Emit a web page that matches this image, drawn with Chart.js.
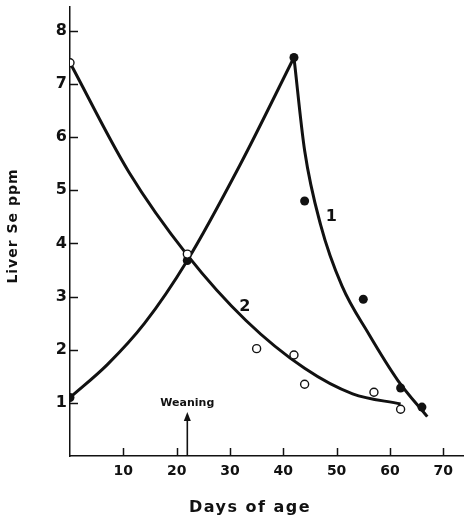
<!DOCTYPE html>
<html>
<head>
<meta charset="utf-8">
<script src="https://cdn.jsdelivr.net/npm/chart.js@4/dist/chart.umd.min.js"></script>
<style>
  html, body { margin: 0; padding: 0; background: #fff; }
  #wrap { width: 464px; height: 517px; }
</style>
</head>
<body>
<div id="wrap"><canvas id="c" width="464" height="517"></canvas></div>
<script>
// ---- Data ----
// Measured points, series 1 (filled circles)
const days1 = [0, 22, 42, 44, 55, 62, 66];
const se1   = [1.1, 3.68, 7.5, 4.8, 2.95, 1.28, 0.92];
// Measured points, series 2 (open circles)
const days2 = [0, 22, 35, 42, 44, 57, 62];
const se2   = [7.4, 3.8, 2.02, 1.9, 1.35, 1.2, 0.88];
// Hand-drawn curve 1, rising branch
const curve1UpDays = [0, 7, 14, 22, 32, 42];
const curve1UpSe   = [1.1, 1.72, 2.5, 3.68, 5.5, 7.5];
// Hand-drawn curve 1, falling branch
const curve1DownDays = [42, 44, 47, 51, 56, 61.5, 67];
const curve1DownSe   = [7.5, 5.75, 4.35, 3.2, 2.3, 1.42, 0.74];
// Hand-drawn curve 2
const curve2Days = [0, 11, 22, 33, 44, 53, 62];
const curve2Se   = [7.4, 5.35, 3.78, 2.55, 1.65, 1.17, 0.98];
// Axis ticks
const xTicks = [10, 20, 30, 40, 50, 60, 70];
const yTicks = [1, 2, 3, 4, 5, 6, 7, 8];
// Annotations
const weaningDay = 22;
const weaningArrowTop = 0.83;
const weaningLabelY = 1.0;
const curveLabels = [
  { text: '1', day: 49, se: 4.51 },
  { text: '2', day: 32.8, se: 2.81 }
];
const xTitle = 'Days of age';
const yTitle = 'Liver Se ppm';

const FONT = '"DejaVu Sans", "Liberation Sans", sans-serif';
const INK = '#111';

function pts(xs, ys) { return xs.map((x, i) => ({ x: x, y: ys[i] })); }

const annot = {
  id: 'annot',
  afterDatasetsDraw(chart) {
    const ctx = chart.ctx;
    const xs = chart.scales.x, ys = chart.scales.y;
    const area = chart.chartArea;
    ctx.save();
    ctx.strokeStyle = INK;
    ctx.fillStyle = INK;
    // inward tick marks
    ctx.lineWidth = 1.5;
    xTicks.forEach(v => {
      const px = Math.round(xs.getPixelForValue(v)) + 0.5;
      ctx.beginPath();
      ctx.moveTo(px, area.bottom);
      ctx.lineTo(px, area.bottom - 8);
      ctx.stroke();
    });
    yTicks.forEach(v => {
      const py = Math.round(ys.getPixelForValue(v)) + 0.5;
      ctx.beginPath();
      ctx.moveTo(area.left, py);
      ctx.lineTo(area.left + 8, py);
      ctx.stroke();
    });
    // weaning arrow
    const ax = xs.getPixelForValue(weaningDay);
    const ay0 = ys.getPixelForValue(0);
    const ay1 = ys.getPixelForValue(weaningArrowTop);
    ctx.lineWidth = 1.6;
    ctx.beginPath();
    ctx.moveTo(ax, ay0);
    ctx.lineTo(ax, ay1 + 6);
    ctx.stroke();
    ctx.beginPath();
    ctx.moveTo(ax, ay1);
    ctx.lineTo(ax - 3.5, ay1 + 9);
    ctx.lineTo(ax + 3.5, ay1 + 9);
    ctx.closePath();
    ctx.fill();
    ctx.font = 'bold 11px ' + FONT;
    ctx.textAlign = 'center';
    ctx.textBaseline = 'middle';
    ctx.fillText('Weaning', ax, ys.getPixelForValue(weaningLabelY));
    // curve labels
    ctx.font = 'bold 16px ' + FONT;
    curveLabels.forEach(l => {
      ctx.fillText(l.text, xs.getPixelForValue(l.day), ys.getPixelForValue(l.se));
    });
    // axis titles
    ctx.font = 'bold 16px ' + FONT;
    try { ctx.letterSpacing = '1.5px'; } catch (e) {}
    ctx.fillText(xTitle, 250, 508);
    ctx.save();
    ctx.translate(13, 226);
    ctx.rotate(-Math.PI / 2);
    ctx.font = 'bold 14px ' + FONT;
    try { ctx.letterSpacing = '1px'; } catch (e) {}
    ctx.fillText(yTitle, 0, 0);
    ctx.restore();
    ctx.restore();
  }
};

new Chart(document.getElementById('c'), {
  type: 'scatter',
  data: {
    datasets: [
      {
        label: 'points 2',
        data: pts(days2, se2),
        showLine: false,
        pointRadius: 4,
        pointBackgroundColor: '#fff',
        pointBorderColor: INK,
        pointBorderWidth: 1.4
      },
      {
        label: 'points 1',
        data: pts(days1, se1),
        showLine: false,
        pointRadius: 4.5,
        pointBackgroundColor: INK,
        pointBorderColor: INK,
        pointBorderWidth: 0
      },
      {
        label: 'curve 1 up',
        data: pts(curve1UpDays, curve1UpSe),
        showLine: true,
        cubicInterpolationMode: 'monotone',
        borderColor: INK,
        borderWidth: 3,
        pointRadius: 0
      },
      {
        label: 'curve 1 down',
        data: pts(curve1DownDays, curve1DownSe),
        showLine: true,
        cubicInterpolationMode: 'monotone',
        borderColor: INK,
        borderWidth: 3,
        pointRadius: 0
      },
      {
        label: 'curve 2',
        data: pts(curve2Days, curve2Se),
        showLine: true,
        cubicInterpolationMode: 'monotone',
        borderColor: INK,
        borderWidth: 3,
        pointRadius: 0
      }
    ]
  },
  options: {
    responsive: false,
    animation: false,
    events: [],
    layout: { autoPadding: false, padding: { top: 7, right: 1, left: 0, bottom: 0 } },
    plugins: {
      legend: { display: false },
      tooltip: { enabled: false },
      title: { display: false }
    },
    scales: {
      x: {
        type: 'linear',
        min: 0,
        max: 73.7,
        afterFit(s) { s.height = 61; s.paddingLeft = 0; s.paddingRight = 0; },
        afterBuildTicks(s) { s.ticks = xTicks.map(v => ({ value: v })); },
        grid: { display: false, drawTicks: false },
        border: { display: true, color: INK, width: 1.5 },
        ticks: {
          color: INK,
          padding: 7,
          maxRotation: 0,
          font: { family: FONT, size: 14, weight: 'bold' }
        }
      },
      y: {
        type: 'linear',
        min: 0,
        max: 8.45,
        afterFit(s) { s.width = 70; s.paddingTop = 0; s.paddingBottom = 0; },
        afterBuildTicks(s) { s.ticks = yTicks.map(v => ({ value: v })); },
        grid: { display: false, drawTicks: false },
        border: { display: true, color: INK, width: 1.5 },
        ticks: {
          color: INK,
          padding: 3,
          font: { family: FONT, size: 16, weight: 'bold' }
        }
      }
    }
  },
  plugins: [annot]
});
</script>
</body>
</html>
